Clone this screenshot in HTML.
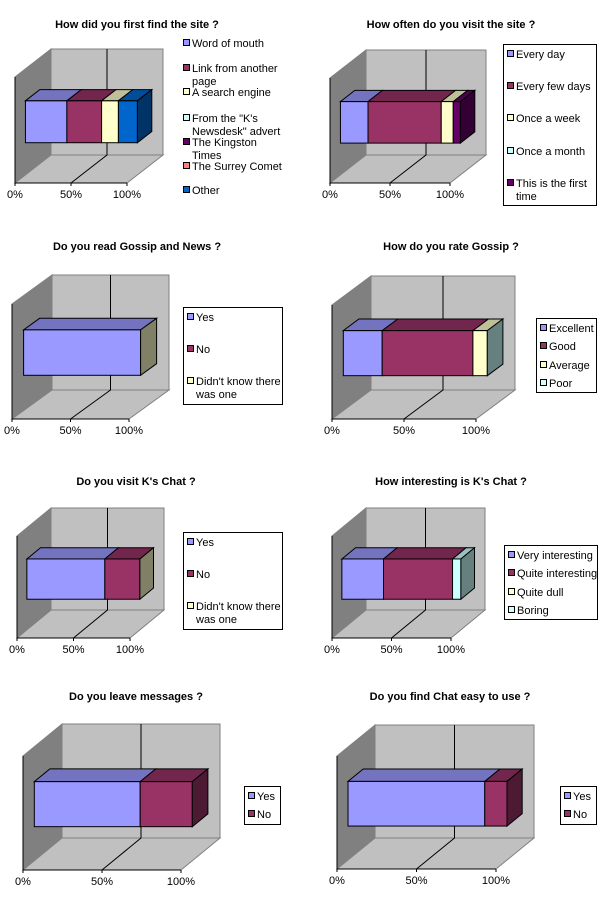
<!DOCTYPE html>
<html><head><meta charset="utf-8"><style>
html,body{margin:0;padding:0;background:#fff}
svg{display:block}
text{font-family:"Liberation Sans",Arial,sans-serif;font-size:11px;fill:#000}
.t{font-weight:bold;font-size:11px}
</style></head><body>
<svg id="s" width="600" height="906" viewBox="0 0 600 906" xmlns="http://www.w3.org/2000/svg"></svg>
<script>
// chart 1
const c1Title = "How did you first find the site ?";
const c1Categories = ["Word of mouth", "Link from another page", "A search engine", "From the \"K's Newsdesk\" advert", "The Kingston Times", "The Surrey Comet", "Other"];
const c1Values = [37, 31, 15, 0, 0, 0, 17];
// chart 2
const c2Title = "How often do you visit the site ?";
const c2Categories = ["Every day", "Every few days", "Once a week", "Once a month", "This is the first time"];
const c2Values = [23, 61, 10, 0, 6];
// chart 3
const c3Title = "Do you read Gossip and News ?";
const c3Categories = ["Yes", "No", "Didn't know there was one"];
const c3Values = [100, 0, 0];
// chart 4
const c4Title = "How do you rate Gossip ?";
const c4Categories = ["Excellent", "Good", "Average", "Poor"];
const c4Values = [27, 63, 10, 0];
// chart 5
const c5Title = "Do you visit K's Chat ?";
const c5Categories = ["Yes", "No", "Didn't know there was one"];
const c5Values = [69, 31, 0];
// chart 6
const c6Title = "How interesting is K's Chat ?";
const c6Categories = ["Very interesting", "Quite interesting", "Quite dull", "Boring"];
const c6Values = [35, 58, 0, 7];
// chart 7
const c7Title = "Do you leave messages ?";
const c7Categories = ["Yes", "No"];
const c7Values = [67, 33];
// chart 8
const c8Title = "Do you find Chat easy to use ?";
const c8Categories = ["Yes", "No"];
const c8Values = [86, 14];
const tickLabels = ["0%", "50%", "100%"];
const tickValues = [0, 50, 100];

const PAL = ["#9999FF","#993366","#FFFFCC","#CCFFFF","#660066","#FF8080","#0066CC"];
const NS = "http://www.w3.org/2000/svg";
const svg = document.getElementById('s');
function el(tag, attrs, parent) {
  const e = document.createElementNS(NS, tag);
  for (const k in attrs) e.setAttribute(k, attrs[k]);
  (parent || svg).appendChild(e);
  return e;
}
function shade(hex, f) {
  const n = parseInt(hex.slice(1), 16);
  const r = Math.round(((n >> 16) & 255) * f), g = Math.round(((n >> 8) & 255) * f), b = Math.round((n & 255) * f);
  return "rgb(" + r + "," + g + "," + b + ")";
}
function pts(a) { return a.map(p => p[0].toFixed(1) + "," + p[1].toFixed(1)).join(" "); }

function drawChart(name, title, cats, vals, G, titleX, titleY, legend) {
  const g = el('g', {});
  
  
  const {L, B, W, H, dx, dy} = G;
  const t = el('text', {x: titleX, y: titleY, 'text-anchor': 'middle', class: 't'}, g);
  t.textContent = title;
  
  
  // walls
  const lw = el('polygon', {points: pts([[L,B],[L,B-H],[L+dx,B-H-dy],[L+dx,B-dy]]), fill: '#808080', stroke: '#808080'}, g);
  
  
  const bw = el('polygon', {points: pts([[L+dx,B-H-dy],[L+dx+W,B-H-dy],[L+dx+W,B-dy],[L+dx,B-dy]]), fill: '#C0C0C0', stroke: '#808080'}, g);
  
  
  const fl = el('polygon', {points: pts([[L,B],[L+W,B],[L+W+dx,B-dy],[L+dx,B-dy]]), fill: '#C0C0C0', stroke: '#808080'}, g);
  
  
  // gridline 50%
  const xs = v => W * v / 100;
  const gl = el('polyline', {points: pts([[L+xs(50),B],[L+dx+xs(50),B-dy],[L+dx+xs(50),B-H-dy]]), fill: 'none', stroke: '#000'}, g);
  
  
  el('line', {x1: L, y1: B, x2: L, y2: B-H, stroke: '#000'}, g);
  const ax = el('line', {x1: L, y1: B, x2: L+W, y2: B, stroke: '#000'}, g);
  
  
  tickValues.forEach((v, i) => {
    el('line', {x1: L+xs(v), y1: B, x2: L+xs(v), y2: B+3, stroke: '#000'}, g);
    const tl = el('text', {x: L+xs(v), y: B+15, 'text-anchor': 'middle'}, g);
    tl.textContent = tickLabels[i];
    
    
  });
  // bar
  const f0 = 0.29, fb = 0.4;
  const bx = L + f0*dx, yT = B - 0.775*H, yB = B - 0.38*H, ox = fb*dx, oy = fb*dy;
  let acc = 0;
  vals.forEach((v, i) => {
    const x0 = bx + xs(acc), x1 = bx + xs(acc + v);
    acc += v;
    if (v <= 0) return;
    const c = PAL[i];
    const top = el('polygon', {points: pts([[x0,yT],[x1,yT],[x1+ox,yT-oy],[x0+ox,yT-oy]]), fill: shade(c, 0.75), stroke: '#000'}, g);
    
    
    const fr = el('rect', {x: x0, y: yT, width: x1-x0, height: yB-yT, fill: c, stroke: '#000'}, g);
    
    
  });
  const xe = bx + xs(acc);
  const sideC = shade(PAL[vals.length-1], 0.5);
  const sd = el('polygon', {points: pts([[xe,yT],[xe+ox,yT-oy],[xe+ox,yB-oy],[xe,yB]]), fill: sideC, stroke: '#000'}, g);
  
  
  // legend
  const lg = el('g', {}, g);
  
  
  if (legend.box) {
    const b = legend.box;
    el('rect', {x: b[0]+0.5, y: b[1]+0.5, width: b[2]-b[0], height: b[3]-b[1], fill: '#fff', stroke: '#000'}, lg);
  }
  cats.forEach((c, i) => {
    const y = legend.ys[i];
    const it = el('g', {}, lg);
    
    
    el('rect', {x: legend.x + 0.5, y: y - 3.5, width: 6, height: 6, fill: PAL[i], stroke: '#000'}, it);
    const lines = legend.wrap && legend.wrap[i] ? legend.wrap[i] : [c];
    lines.forEach((ln, j) => {
      const tx = el('text', {x: legend.x + 9, y: y + 4 + j*13}, it);
      tx.textContent = ln;
    });
  });
}

drawChart('chart-find-site', c1Title, c1Categories, c1Values,
  {L:15,B:183,W:112,H:106,dx:36,dy:28}, 137, 28,
  {x:183, ys:[43,68,92,118,142,166,190], wrap:{1:["Link from another","page"],3:["From the \"K's","Newsdesk\" advert"],4:["The Kingston","Times"]}});
drawChart('chart-visit-frequency', c2Title, c2Categories, c2Values,
  {L:330,B:183,W:120,H:105,dx:36,dy:28}, 451, 28,
  {x:507, box:[503,44,596,205], ys:[54,86,118,151,183], wrap:{4:["This is the first","time"]}});
drawChart('chart-read-gossip', c3Title, c3Categories, c3Values,
  {L:12,B:419,W:117,H:115,dx:40,dy:29}, 137, 250,
  {x:187, box:[183,307,282,404], ys:[317,349,381], wrap:{2:["Didn't know there","was one"]}});
drawChart('chart-rate-gossip', c4Title, c4Categories, c4Values,
  {L:332,B:419,W:144,H:114,dx:39,dy:29}, 451, 250,
  {x:540, box:[536,318,596,392], ys:[328,346,365,383]});
drawChart('chart-visit-chat', c5Title, c5Categories, c5Values,
  {L:17,B:638,W:113,H:102,dx:34,dy:28}, 136, 485,
  {x:187, box:[183,532,282,629], ys:[542,574,606], wrap:{2:["Didn't know there","was one"]}});
drawChart('chart-chat-interest', c6Title, c6Categories, c6Values,
  {L:332,B:638,W:119,H:102,dx:34,dy:28}, 451, 485,
  {x:508, box:[504,545,597,619], ys:[555,573,592,610]});
drawChart('chart-leave-messages', c7Title, c7Categories, c7Values,
  {L:23,B:870,W:158,H:114,dx:39,dy:32}, 136, 700,
  {x:248, box:[244,786,280,824], ys:[796,814]});
drawChart('chart-chat-easy', c8Title, c8Categories, c8Values,
  {L:337,B:869,W:159,H:113,dx:38,dy:31}, 450, 700,
  {x:564, box:[560,786,596,824], ys:[796,814]});
</script>
</body></html>
